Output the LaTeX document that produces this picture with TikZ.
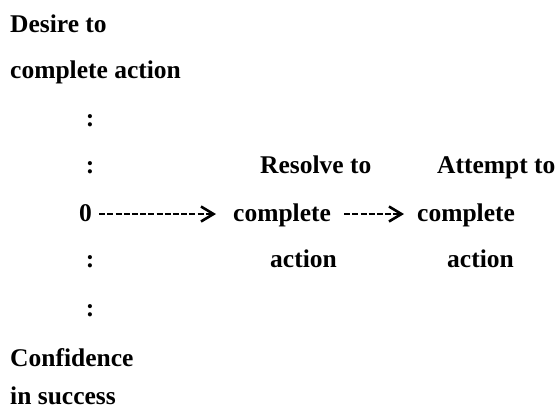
\documentclass[tikz,border=0pt]{standalone}
\usepackage{fontspec}
\setmainfont{Liberation Serif}
\usetikzlibrary{arrows.meta,calc}
\begin{document}
\begin{tikzpicture}[x=1pt,y=-1pt,
  lbl/.style={inner sep=0pt,anchor=base west,font=\fontsize{25.5}{30}\selectfont\bfseries},
  dots/.style={inner sep=0pt,anchor=base,font=\fontsize{25.5}{30}\selectfont\bfseries},
  flow/.style={line width=2pt,dash pattern=on 6pt off 2.2pt,
    -{Straight Barb[length=12.5pt,width=15pt,line width=2.6pt]}}]
\useasboundingbox (0,0) rectangle (560,416);
% left-hand axis labels
\node[lbl] (desire) at (10,32) {Desire to};
\node[lbl] (desire2) at (10,78) {complete action};
\node[dots] (d1) at (90,126) {:};
\node[dots] (d2) at (90,173) {:};
\node[lbl] (zero) at (79,221) {0};
\node[dots] (d3) at (90,267) {:};
\node[dots] (d4) at (90,316) {:};
\node[lbl] (conf) at (10,366) {Confidence};
\node[lbl] (conf2) at (10,404) {in success};
% stages
\node[lbl] (res1) at (260,173) {Resolve to};
\node[lbl] (res2) at (233,221) {complete};
\node[lbl] (res3) at (270,267) {action};
\node[lbl] (att1) at (437,173) {Attempt to};
\node[lbl] (att2) at (417,221) {complete};
\node[lbl] (att3) at (447,267) {action};
% connectors
\draw[flow] ($(zero.base east)+(7,-7)$) -- ($(res2.base west)+(-17,-7)$);
\draw[flow] ($(res2.base east)+(13,-7)$) -- ($(att2.base west)+(-13,-7)$);
\end{tikzpicture}
\end{document}
